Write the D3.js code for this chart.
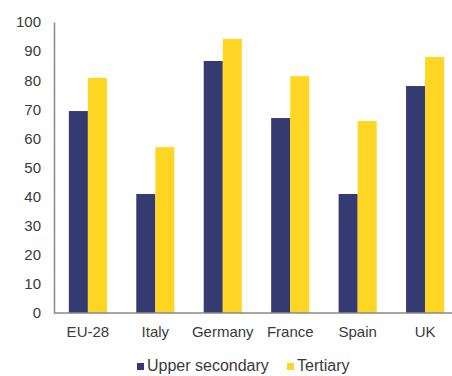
<!DOCTYPE html>
<html>
<head>
<meta charset="utf-8">
<script src="https://cdn.jsdelivr.net/npm/d3@7"></script>
<style>
  html, body { margin: 0; padding: 0; background: #fff; }
  svg { display: block; font-family: "Liberation Sans", Arial, sans-serif; }
</style>
</head>
<body>
<svg id="chart" width="452" height="376"></svg>
<script>
// Share of population (%) by education level
const categories = ["EU-28", "Italy", "Germany", "France", "Spain", "UK"];
const seriesNames = ["Upper secondary", "Tertiary"];
const upperSecondary = [69.4, 40.9, 86.6, 67.0, 40.9, 78.0];
const tertiary = [80.8, 57.0, 94.2, 81.4, 66.0, 88.0];
const yTicks = [0, 10, 20, 30, 40, 50, 60, 70, 80, 90, 100];
const colors = ["#353A70", "#FFD624"];

const svg = d3.select("#chart");
const axisX = 54, plotTop = 22, baseY = 313, rightEdge = 459;

const x0 = d3.scaleBand().domain(categories).range([axisX, rightEdge]).paddingInner(0.435).paddingOuter(0.22);
const x1 = d3.scaleBand().domain(seriesNames).range([0, x0.bandwidth()]);
const y = d3.scaleLinear().domain([0, 100]).range([baseY, plotTop]);

const rows = categories.map((c, i) => ({ cat: c, values: [upperSecondary[i], tertiary[i]] }));

// Bars
const groups = svg.append("g").selectAll("g").data(rows).join("g")
  .attr("transform", d => `translate(${x0(d.cat)},0)`);
groups.selectAll("rect")
  .data(d => d.values.map((v, j) => ({ key: seriesNames[j], v, j })))
  .join("rect")
  .attr("x", d => x1(d.key))
  .attr("width", x1.bandwidth())
  .attr("y", d => y(d.v))
  .attr("height", d => baseY - y(d.v))
  .attr("fill", d => colors[d.j]);

// Y axis
const yAxis = d3.axisLeft(y).tickValues(yTicks).tickSize(0).tickPadding(13);
const gy = svg.append("g").attr("transform", `translate(${axisX},0)`).call(yAxis);
gy.select(".domain").attr("stroke", "#888").attr("stroke-width", 1.5);
gy.selectAll("text").attr("font-size", 15).attr("fill", "#3a3a3a")
  .attr("font-family", "Liberation Sans, Arial, sans-serif");

// X axis
const xAxis = d3.axisBottom(x0).tickSize(0).tickPadding(13);
const gx = svg.append("g").attr("transform", `translate(0,${baseY})`).call(xAxis);
gx.select(".domain").attr("stroke", "#888").attr("stroke-width", 1.5)
  .attr("d", `M${axisX},0H452`);
gx.selectAll("text").attr("font-size", 15).attr("fill", "#3a3a3a")
  .attr("font-family", "Liberation Sans, Arial, sans-serif");

// Legend
const legendItems = [{ name: "Upper secondary", x: 137 }, { name: "Tertiary", x: 287 }];
const lg = svg.append("g").selectAll("g").data(legendItems).join("g")
  .attr("transform", d => `translate(${d.x},362)`);
lg.append("rect").attr("width", 7).attr("height", 7).attr("y", 1)
  .attr("fill", (d, i) => colors[i]);
lg.append("text").attr("x", 10).attr("y", 9).attr("font-size", 16)
  .attr("fill", "#3a3a3a").text(d => d.name);
</script>
</body>
</html>
